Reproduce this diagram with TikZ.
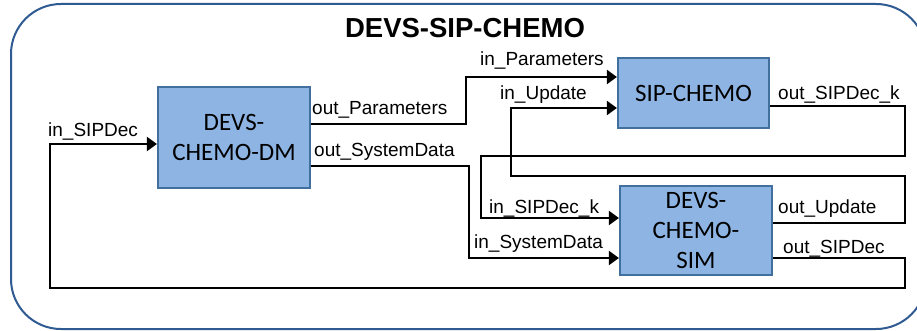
\documentclass[tikz,border=0pt]{standalone}
\usepackage{fontspec}
\setmainfont{Liberation Sans}
\newfontfamily\boxfont{Carlito}
\usetikzlibrary{arrows.meta,calc}
\definecolor{boxfill}{HTML}{8EB4E3}
\definecolor{boxline}{HTML}{41709F}
\definecolor{framecol}{HTML}{2F5A92}
\begin{document}
\begin{tikzpicture}[x=1pt,y=-1pt,
  model/.style={draw=boxline,fill=boxfill,line width=2.2pt,inner sep=0pt,
    align=center,font=\boxfont\fontsize{25}{30}\selectfont},
  link/.style={line width=2.2pt,line join=miter},
  arr/.style={link,-{Triangle[length=10pt,width=14pt]}},
  port/.style={anchor=base west,inner sep=0pt,font=\fontsize{19}{22}\selectfont}]
\useasboundingbox (0,0) rectangle (917,331);
\begin{scope}
  \clip (0,0) rectangle (917,331);
  \draw[framecol,line width=2pt,rounded corners=50pt] (11,4) rectangle (926,329);
\end{scope}
\node[anchor=base,inner sep=0pt,font=\bfseries\fontsize{27.5}{32}\selectfont] (title) at (465,37.5) {DEVS-SIP-CHEMO};

% coupled models
\node[model,minimum width=152pt,minimum height=101pt] (dm) at (234,137.5) {DEVS-\\CHEMO-DM};
\node[model,minimum width=151pt,minimum height=70pt] (sip) at (693.5,93) {SIP-CHEMO};
\node[model,minimum width=152pt,minimum height=89pt] (sim) at (696,230.5) {DEVS-\\CHEMO-\\SIM};

% couplings
\draw[arr] ([yshift=13.5pt]dm.east) -- ++(155,0) |- ([yshift=16pt]sip.west);
\draw[arr] ([yshift=-28.5pt]dm.east) -- ++(158,0) |- ([yshift=-27.5pt]sim.west);
\draw[arr] ([yshift=-13pt]sip.east) -- ++(135,0) |- (481,156) |- ([yshift=12.5pt]sim.west);
\draw[arr] ([yshift=7.5pt]sim.east) -- ++(132,0) |- (511,176) |- ([yshift=-15pt]sip.west);
\draw[arr] ([yshift=-27.5pt]sim.east) -- ++(132,0) |- (50,288) |- ([yshift=-6.5pt]dm.west);

% port labels
\node[port] (lInSIPDec) at (48,137) {in\_SIPDec};
\node[port] (lOutPar) at (312,115) {out\_Parameters};
\node[port] (lOutSys) at (314,157) {out\_SystemData};
\node[port] (lInPar) at (480,66) {in\_Parameters};
\node[port] (lInUpd) at (500,100) {in\_Update};
\node[port] (lOutSIPk) at (778,100) {out\_SIPDec\_k};
\node[port] (lInSIPk) at (489,213) {in\_SIPDec\_k};
\node[port] (lInSys) at (474,248) {in\_SystemData};
\node[port] (lOutUpd) at (778,213) {out\_Update};
\node[port] (lOutSIPDec) at (783,253) {out\_SIPDec};
\end{tikzpicture}
\end{document}
